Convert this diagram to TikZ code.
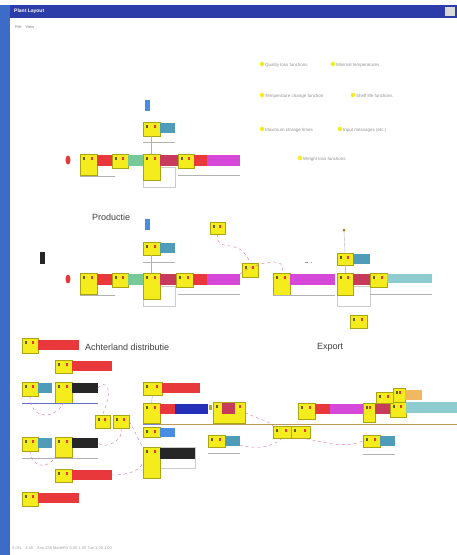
\documentclass[tikz,border=0pt]{standalone}
\usepackage{fontspec}
\setmainfont{Liberation Sans}
\definecolor{ylw}{HTML}{F4EC1C}
\definecolor{rd}{HTML}{E8383C}
\definecolor{crm}{HTML}{C83A5C}
\definecolor{mag}{HTML}{D548D8}
\definecolor{tl}{HTML}{4E9CB8}
\definecolor{ltl}{HTML}{8FCCD0}
\definecolor{grn}{HTML}{78C898}
\definecolor{blu}{HTML}{4A8CE0}
\definecolor{dblu}{HTML}{2430B8}
\definecolor{org}{HTML}{F0B860}
\definecolor{pnk}{HTML}{E070B0}
\definecolor{olv}{HTML}{B89A58}
\definecolor{title}{HTML}{2C3CA8}
\definecolor{side}{HTML}{3C6CC8}
\newcommand\yb[5]{\node[ybk,minimum width=#4pt,minimum height=#5pt] (#1) at (#2,#3) {};
  \fill[olive!60!black] (#2+3,#3+3) rectangle ++(2,3);
  \fill[rd] (#2+#4-6,#3+3) rectangle ++(2,3);}
\newcommand\cb[6]{\node[cbk,fill=#6,minimum width=#4pt,minimum height=#5pt] (#1) at (#2,#3) {};}
\newcommand\capln[3]{\draw[capl] (#1,#3) -- (#2,#3);}
\begin{document}
\begin{tikzpicture}[x=1pt,y=-1pt,
  ybk/.style={draw=ylw!70!black,line width=0.3pt,fill=ylw,anchor=north west,inner sep=0pt,outer sep=0pt},
  cbk/.style={draw=none,anchor=north west,inner sep=0pt,outer sep=0pt},
  capl/.style={draw=gray!60,line width=0.5pt},
  lnk/.style={draw=pnk,dashed,line width=0.4pt},
  bulb/.style={fill=ylw,circle,inner sep=0pt,minimum size=4.5pt},
  leg/.style={font=\fontsize{4.5}{5}\selectfont,text=gray!85,anchor=west,inner sep=0pt},
  sect/.style={font=\fontsize{9}{10}\selectfont,text=black!75,anchor=west,inner sep=0pt}]
\useasboundingbox (0,0) rectangle (457,555);
\fill[white] (0,0) rectangle (457,555);
% window frame
\fill[side] (0,5) rectangle (10,555);
\fill[title] (10,5) rectangle (457,18);
\node[anchor=west,text=white,font=\bfseries\fontsize{5}{6}\selectfont,inner sep=0pt] (ttl) at (14,11.5) {Plant Layout};
\fill[gray!30] (445,7) rectangle (455,16);
\node[anchor=west,text=gray,font=\fontsize{4}{5}\selectfont,inner sep=0pt] (menu) at (15,27) {File\quad View};
\node[anchor=west,text=gray!70,font=\fontsize{4}{5}\selectfont,inner sep=0pt] (stat) at (12,548) {0.0\%\quad 4.45\quad Ann:256 ModeFix 0.00 1.00 Tue 1.00 1.00};
% legend
\foreach \n/\x/\y/\t in {l1/262/64/Quality loss functions,l2/333/64/Minimal temperatures,l3/262/95/Temperature change function,l4/353/95/Shelf life functions,l5/262/129/Maximum storage times,l6/340/129/Input messages (etc.),l7/300/158/Weight loss functions}{
  \node[bulb] (\n b) at (\x,\y) {};
  \node[leg] (\n) at (\x+3,\y+1) {\t};}
% ===== section 1 =====
\cb{s1b}{145}{100}{5}{11}{blu}
\yb{s1y}{143}{122}{17}{14}
\cb{s1t}{160}{123}{15}{10}{tl}
\capln{143}{175}{142}
\fill[rd] (68,160) ellipse (2.5 and 4.5);
\yb{a1}{80}{154}{17}{21}
\cb{a2}{97}{155}{15}{11}{rd}
\yb{a3}{112}{154}{16}{14}
\cb{a4}{128}{155}{15}{11}{grn}
\draw[gray!40] (143,167) rectangle (175,187);
\yb{a5}{143}{154}{17}{26}
\cb{a6}{160}{155}{18}{11}{crm}
\yb{a7}{178}{154}{16}{14}
\cb{a8}{194}{155}{13}{11}{rd}
\cb{a9}{207}{155}{33}{11}{mag}
\capln{80}{115}{176}
\capln{178}{240}{175}
\draw[gray!60] (s1y.south) -- (a5.north);
% ===== section 2: Productie =====
\node[sect] (prod) at (92,217) {Productie};
\cb{s2b}{145}{219}{5}{11}{blu}
\yb{p0}{210}{222}{15}{12}
\yb{s2y}{143}{242}{17}{13}
\cb{s2t}{160}{243}{15}{10}{tl}
\capln{143}{175}{262}
\fill[black!85] (40,252) rectangle (45,264);
\fill[rd] (68,279) ellipse (2.5 and 4.5);
\yb{b1}{80}{273}{17}{21}
\cb{b2}{97}{274}{15}{11}{rd}
\yb{b3}{112}{273}{16}{14}
\cb{b4}{128}{274}{15}{11}{grn}
\draw[gray!40] (143,286) rectangle (175,306);
\yb{b5}{143}{273}{17}{26}
\cb{b6}{160}{274}{16}{11}{crm}
\yb{b7}{176}{273}{17}{14}
\cb{b8}{193}{274}{14}{11}{rd}
\cb{b9}{207}{274}{33}{11}{mag}
\capln{80}{115}{295}
\capln{178}{240}{294}
\draw[gray!60] (s2y.south) -- (b5.north);
\yb{b10}{242}{263}{16}{14}
\yb{c1}{273}{273}{17}{22}
\cb{c2}{290}{274}{45}{11}{mag}
\draw[gray!40] (337,286) rectangle (370,306);
\yb{c3}{337}{273}{16}{22}
\cb{c4}{353}{274}{17}{11}{crm}
\yb{c5}{370}{273}{17}{14}
\cb{c6}{387}{274}{45}{9}{ltl}
\capln{273}{335}{295}
\capln{370}{432}{294}
\yb{s3y}{337}{253}{16}{12}
\cb{s3t}{353}{254}{17}{10}{tl}
\fill[olive] (344,230) circle (1.5);
\coordinate (tp) at (344,231);
\draw[gray!50] (tp) -- (s3y.north);
\draw[gray!50] (s3y.south) -- (c3.north);
\yb{c7}{350}{315}{17}{13}
\draw[lnk] (p0.south) .. controls (215,255) and (240,235) .. (b10.north);
\draw[lnk] (b9.north east) .. controls (255,262) and (290,255) .. (c1.north);
\draw[lnk] (305,262) -- (312,262);
% ===== section 3: Achterland distributie =====
\node[sect] (ach) at (85,347) {Achterland distributie};
\yb{d1}{22}{338}{16}{15}
\cb{d1r}{38}{340}{41}{10}{rd}
\yb{d2}{55}{360}{17}{13}
\cb{d2r}{72}{361}{40}{10}{rd}
\yb{d3}{22}{382}{16}{14}
\cb{d3t}{38}{383}{14}{10}{tl}
\yb{d4}{55}{382}{17}{21}
\cb{d4k}{72}{383}{26}{10}{black!85}
\draw[dblu!70,line width=0.5pt] (22,403) -- (98,403);
\yb{d5}{95}{415}{15}{13}
\yb{d6}{113}{415}{16}{13}
\yb{d7}{22}{437}{16}{14}
\cb{d7t}{38}{438}{14}{10}{tl}
\yb{d8}{55}{437}{17}{20}
\cb{d8k}{72}{438}{26}{10}{black!85}
\capln{22}{98}{458}
\yb{d9}{55}{469}{17}{13}
\cb{d9r}{72}{470}{40}{10}{rd}
\yb{d10}{22}{492}{16}{14}
\cb{d10r}{38}{493}{41}{10}{rd}
\draw[lnk] (d3.south) .. controls (30,420) and (55,420) .. (d4.south);
\draw[lnk] (d4k.east) .. controls (105,380) and (115,385) .. (d5.north);
\draw[lnk] (d6.south) .. controls (125,440) and (105,450) .. (d8k.east);
\draw[lnk] (d7.south) .. controls (32,470) and (50,468) .. (d8.south west);
\draw[lnk] (d6.east) .. controls (135,430) and (140,445) .. (145,450);
% middle column
\yb{e1}{143}{382}{19}{13}
\cb{e1r}{162}{383}{38}{10}{rd}
\yb{e2}{143}{403}{17}{20}
\cb{e2r}{160}{404}{15}{10}{rd}
\cb{e2b}{175}{404}{33}{10}{dblu}
\fill[olive!70] (209,405) rectangle (212,410);
\yb{e3}{213}{402}{32}{21}
\cb{e3c}{222}{403}{13}{11}{crm}
\draw[olv,line width=1pt] (160,424) -- (457,424);
\draw[dblu!60,line width=0.8pt] (143,424) -- (160,424);
\yb{e4}{143}{427}{17}{10}
\cb{e4b}{160}{428}{15}{9}{blu}
\draw[gray!40] (143,447) rectangle (195,468);
\yb{e5}{143}{447}{17}{31}
\cb{e5k}{160}{448}{35}{11}{black!85}
\yb{e6}{208}{435}{17}{12}
\cb{e6t}{225}{436}{15}{10}{tl}
\capln{208}{240}{453}
\draw[gray!60] (e1.south) -- (e2.north);
% ===== section 4: Export =====
\node[sect] (exp) at (317,347) {Export};
\yb{f1}{298}{403}{17}{16}
\cb{f1r}{315}{404}{15}{10}{rd}
\cb{f1m}{330}{404}{33}{10}{mag}
\yb{f2}{363}{403}{12}{19}
\cb{f2c}{375}{404}{15}{10}{crm}
\yb{f3}{390}{402}{16}{15}
\cb{f3t}{406}{402}{51}{11}{ltl}
\yb{f4}{376}{392}{17}{11}
\yb{f5}{393}{388}{12}{14}
\cb{f5o}{405}{390}{17}{10}{org}
\yb{g1}{273}{426}{18}{12}
\yb{g2}{291}{426}{19}{12}
\yb{h1}{363}{435}{17}{12}
\cb{h1t}{380}{436}{15}{10}{tl}
\capln{363}{395}{454}
\draw[lnk] (e3.east) .. controls (260,420) and (268,420) .. (g1.north west);
\draw[lnk] (g1.south) .. controls (270,450) and (250,448) .. (240,445);
\draw[lnk] (g2.south) .. controls (320,440) and (340,450) .. (h1.west);
\draw[lnk] (d9r.east) .. controls (130,475) and (140,470) .. (e5.west);
\end{tikzpicture}
\end{document}
